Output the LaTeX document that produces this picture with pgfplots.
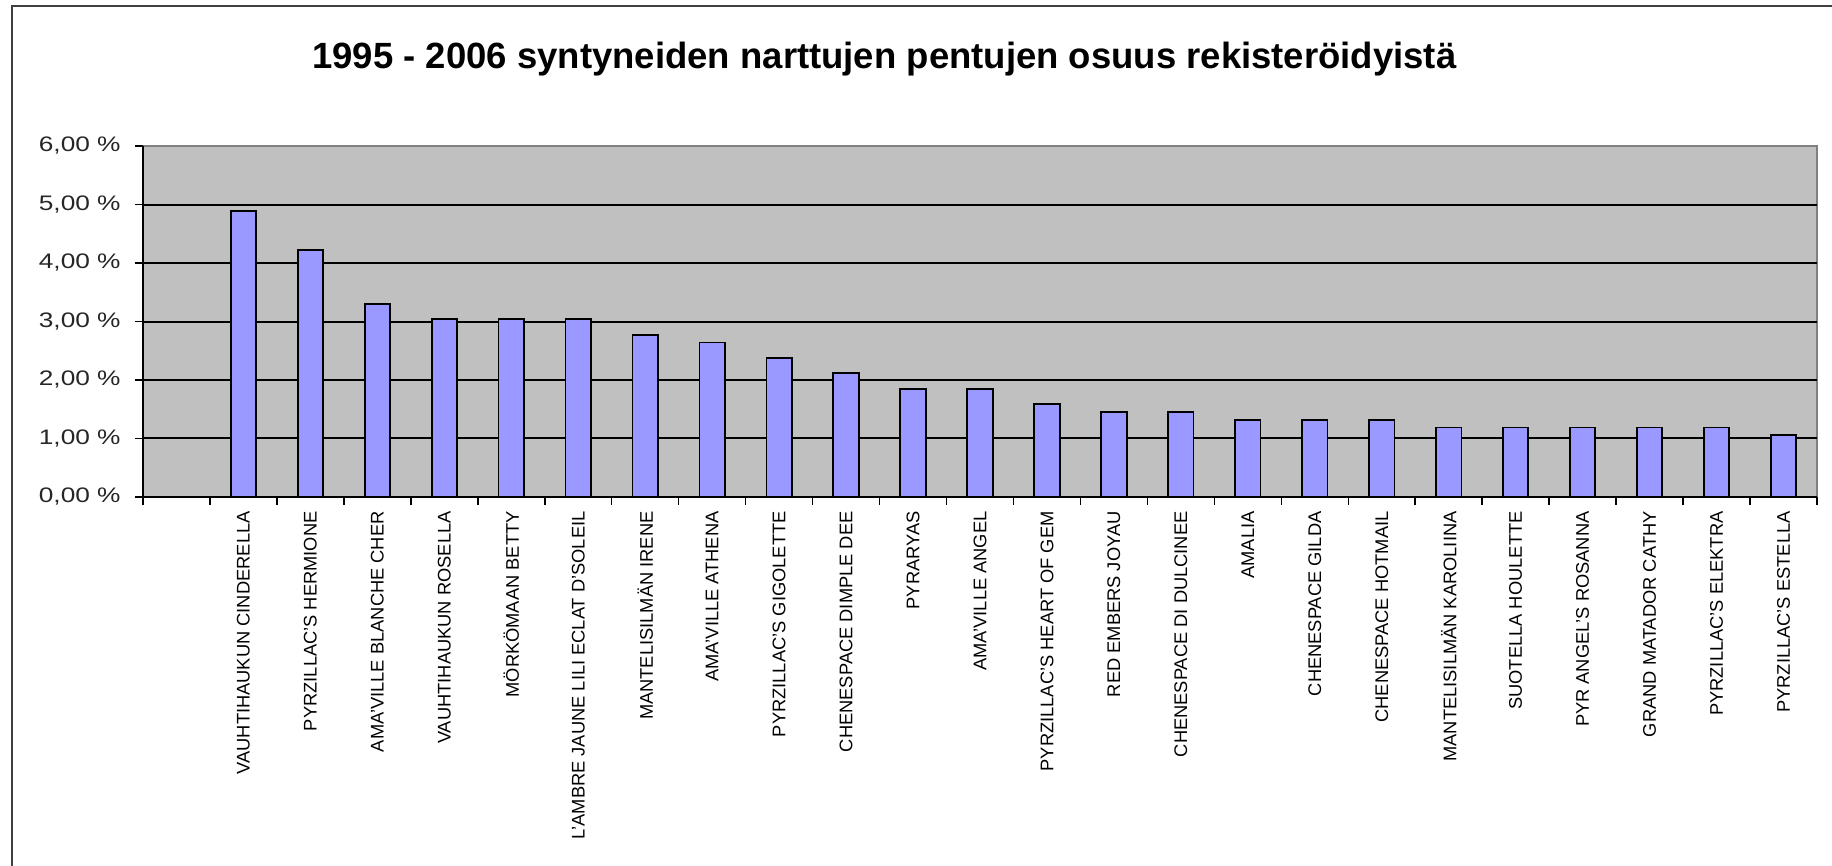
\documentclass[border=0pt]{standalone}
\usepackage{graphicx}
\usepackage{pgfplots}
\pgfplotsset{compat=1.18}
\usepackage{fontspec}
\setmainfont{Liberation Sans}
\definecolor{barfill}{RGB}{153,153,255}
\definecolor{plotbg}{RGB}{192,192,192}
\definecolor{framegray}{RGB}{64,64,64}
\definecolor{boxgray}{RGB}{128,128,128}
\begin{document}
\begin{tikzpicture}
\path[use as bounding box] (-71.5pt,-184.5pt) rectangle (844.5pt,248.5pt);
\draw[framegray, line width=1pt] (-65.5pt,-184.5pt) -- (-65.5pt,245.5pt) -- (844.5pt,245.5pt);
\node[anchor=base west, inner sep=0pt] at (84.5pt,214.3pt)
  {\resizebox{572pt}{!}{\bfseries 1995 - 2006 syntyneiden narttujen pentujen osuus rekisteröidyistä}};
\begin{axis}[
  at={(0,0)}, anchor=south west,
  scale only axis, width=837pt, height=175.5pt,
  xmin=0.5, xmax=25.5, ymin=0, ymax=6,
  axis lines=left,
  axis line style={-, black, line width=1pt},
  axis background/.style={fill=plotbg, draw=boxgray, line width=1pt},
  tick align=outside,
  major tick length=4pt,
  tick style={black, line width=0.75pt},
  xtick={0.5,1.5,...,25.5},
  xticklabels={},
  ytick={0,1,2,3,4,5,6},
  yticklabels={{\scalebox{1.25}[1]{0,00 \%}},{\scalebox{1.25}[1]{1,00 \%}},{\scalebox{1.25}[1]{2,00 \%}},{\scalebox{1.25}[1]{3,00 \%}},{\scalebox{1.25}[1]{4,00 \%}},{\scalebox{1.25}[1]{5,00 \%}},{\scalebox{1.25}[1]{6,00 \%}}},
  yticklabel style={font=\fontsize{10.5}{12}\selectfont, anchor=east, inner sep=0pt, xshift=-7pt, text=black!85},
  extra y ticks={1,2,3,4,5},
  extra y tick labels={},
  extra y tick style={grid=major, major grid style={black, line width=1pt}, major tick length=0pt},
  extra x ticks={2,3,...,25},
  extra x tick labels={VAUHTIHAUKUN CINDERELLA, PYRZILLAC'S HERMIONE, AMA'VILLE BLANCHE CHER, VAUHTIHAUKUN ROSELLA, MÖRKÖMAAN BETTY, L'AMBRE JAUNE LILI ECLAT D'SOLEIL, MANTELISILMÄN IRENE, AMA'VILLE ATHENA, PYRZILLAC'S GIGOLETTE, CHENESPACE DIMPLE DEE, PYRARYAS, AMA'VILLE ANGEL, PYRZILLAC'S HEART OF GEM, RED EMBERS JOYAU, CHENESPACE DI DULCINEE, AMALIA, CHENESPACE GILDA, CHENESPACE HOTMAIL, MANTELISILMÄN KAROLIINA, SUOTELLA HOULETTE, PYR ANGEL'S ROSANNA, GRAND MATADOR CATHY, PYRZILLAC'S ELEKTRA, PYRZILLAC'S ESTELLA},
  extra x tick style={major tick length=0pt, xticklabel style={rotate=90, anchor=east, inner sep=0pt, inner xsep=7pt, font=\fontsize{9.15}{10}\selectfont}},
  clip=false,
]
\addplot[ybar, bar width=12.7pt, fill=barfill, draw=black, line width=0.9pt] coordinates {
  (2,4.888) (3,4.227) (4,3.303) (5,3.038) (6,3.038) (7,3.038) (8,2.774) (9,2.642)
  (10,2.378) (11,2.114) (12,1.849) (13,1.849) (14,1.585) (15,1.453) (16,1.453)
  (17,1.321) (18,1.321) (19,1.321) (20,1.189) (21,1.189) (22,1.189) (23,1.189)
  (24,1.189) (25,1.057)
};
\end{axis}
\end{tikzpicture}
\end{document}
